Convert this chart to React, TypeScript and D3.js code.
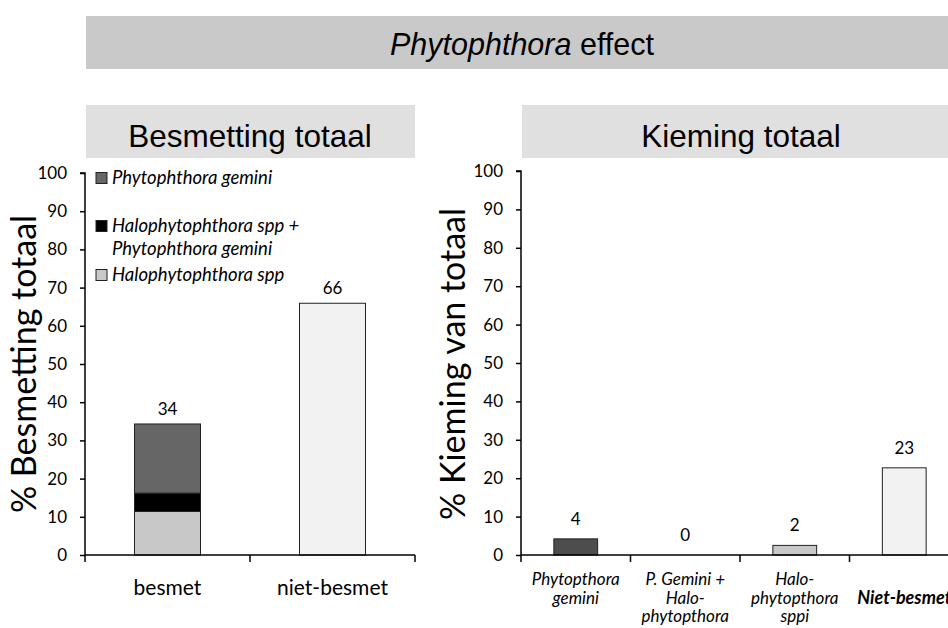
import { useEffect, useRef } from 'react';
import * as d3 from 'd3';

// left chart: infection
const besmetCategories = ['besmet', 'niet-besmet'];
const besmetKeys = ['halo', 'both', 'gemini', 'niet'];
const haloValues = [11.4, 0];
const bothValues = [4.8, 0];
const geminiValues = [18.1, 0];
const nietValues = [0, 65.9];
const besmetTotals = ['34', '66'];
const legendLabels = [
  ['Phytophthora gemini'],
  ['Halophytophthora spp +', 'Phytophthora gemini'],
  ['Halophytophthora spp'],
];

// right chart: germination
const kiemCategories = [
  ['Phytopthora', 'gemini'],
  ['P. Gemini +', 'Halo-', 'phytopthora'],
  ['Halo-', 'phytopthora', 'sppi'],
  ['', 'Niet-besmet'],
];
const kiemValues = [4.2, 0, 2.5, 22.7];
const kiemLabels = ['4', '0', '2', '23'];

const yTicks = [0, 10, 20, 30, 40, 50, 60, 70, 80, 90, 100];
const FONT = 'Lato, "Open Sans", sans-serif';
const ARIAL = '"Liberation Sans", Arial, sans-serif';

const stackColors: Record<string, string> = {
  halo: '#c8c8c8',
  both: '#000000',
  gemini: '#666666',
  niet: '#f2f2f2',
};
const kiemColors = ['#4d4d4d', '#000000', '#c8c8c8', '#f2f2f2'];

const App = () => {
  const svgRef = useRef(null);

  useEffect(() => {
    if (!svgRef.current) return;
    const svg = d3.select(svgRef.current);
    svg.selectAll('*').remove();

    // main banner
    svg.append('rect').attr('x', 86).attr('y', 16).attr('width', 870).attr('height', 53).attr('fill', '#c9c9c9');
    const title = svg
      .append('text')
      .attr('x', 522)
      .attr('y', 55)
      .attr('text-anchor', 'middle')
      .style('font-family', ARIAL)
      .style('font-size', '30.5px');
    title.append('tspan').style('font-style', 'italic').text('Phytophthora');
    title.append('tspan').text(' effect');

    // panel headers
    const headers = [
      { x: 86, w: 329, cx: 250, label: 'Besmetting totaal' },
      { x: 522, w: 440, cx: 741, label: 'Kieming totaal' },
    ];
    headers.forEach((h) => {
      svg.append('rect').attr('x', h.x).attr('y', 105).attr('width', h.w).attr('height', 53).attr('fill', '#e0e0e0');
      svg
        .append('text')
        .attr('x', h.cx)
        .attr('y', 147)
        .attr('text-anchor', 'middle')
        .style('font-family', ARIAL)
        .style('font-size', '31.5px')
        .text(h.label);
    });

    // ---------- left chart ----------
    const y1 = d3.scaleLinear().domain([0, 100]).range([555, 173]);
    const x1 = d3.scaleBand().domain(besmetCategories).range([85, 415]).paddingInner(0.6).paddingOuter(0.3);

    const rows = besmetCategories.map((c, i) => ({
      cat: c,
      halo: haloValues[i],
      both: bothValues[i],
      gemini: geminiValues[i],
      niet: nietValues[i],
    }));
    const stacked = d3.stack<any>().keys(besmetKeys)(rows);
    const g1 = svg.append('g');
    stacked.forEach((layer) => {
      g1.selectAll(null)
        .data(layer.filter((d) => d[1] - d[0] > 0))
        .join('rect')
        .attr('x', (d) => x1(d.data.cat)!)
        .attr('y', (d) => y1(d[1]))
        .attr('width', x1.bandwidth())
        .attr('height', (d) => y1(d[0]) - y1(d[1]))
        .attr('fill', stackColors[layer.key])
        .attr('stroke', '#222')
        .attr('stroke-width', 1);
    });
    g1.selectAll(null)
      .data(rows)
      .join('text')
      .attr('x', (d) => x1(d.cat)! + x1.bandwidth() / 2)
      .attr('y', (d) => y1(d.halo + d.both + d.gemini + d.niet) - 9)
      .attr('text-anchor', 'middle')
      .style('font-family', FONT)
      .style('font-size', '17px')
      .text((_, i) => besmetTotals[i]);

    drawYAxis(svg, y1, 85);
    // x axis
    svg.append('line').attr('x1', 85).attr('x2', 415).attr('y1', 555).attr('y2', 555).attr('stroke', '#000').attr('stroke-width', 1.5);
    [85, 250, 415].forEach((t) =>
      svg.append('line').attr('x1', t).attr('x2', t).attr('y1', 555).attr('y2', 562).attr('stroke', '#000').attr('stroke-width', 1.5)
    );
    svg
      .selectAll(null)
      .data(besmetCategories)
      .join('text')
      .attr('x', (d) => x1(d)! + x1.bandwidth() / 2)
      .attr('y', 595)
      .attr('text-anchor', 'middle')
      .style('font-family', FONT)
      .style('font-size', '21px')
      .text((d) => d);

    // y title
    svg
      .append('text')
      .attr('transform', 'translate(36,364) rotate(-90)')
      .attr('text-anchor', 'middle')
      .style('font-family', FONT)
      .style('font-size', '34px')
      .text('% Besmetting totaal');

    // legend
    const legendY = [178, 226, 275];
    const legendFill = [stackColors.gemini, stackColors.both, stackColors.halo];
    legendLabels.forEach((lines, i) => {
      svg
        .append('rect')
        .attr('x', 96)
        .attr('y', legendY[i] - 5.5)
        .attr('width', 11)
        .attr('height', 11)
        .attr('fill', legendFill[i])
        .attr('stroke', '#222');
      lines.forEach((l, j) => {
        svg
          .append('text')
          .attr('x', 112)
          .attr('y', legendY[i] + 6 + j * 23)
          .style('font-family', FONT)
          .style('font-style', 'italic')
          .style('font-size', '18.5px')
          .text(l);
      });
    });

    // ---------- right chart ----------
    const y2 = d3.scaleLinear().domain([0, 100]).range([555, 171]);
    const kiemIdx = kiemCategories.map((_, i) => String(i));
    const x2 = d3.scaleBand().domain(kiemIdx).range([521, 959]).paddingInner(0.6).paddingOuter(0.3);
    const kiemRows = kiemValues.map((v, i) => ({ key: String(i), v, i }));
    const g2 = svg.append('g');
    g2.selectAll(null)
      .data(kiemRows.filter((d) => d.v > 0))
      .join('rect')
      .attr('x', (d) => x2(d.key)!)
      .attr('y', (d) => y2(d.v))
      .attr('width', x2.bandwidth())
      .attr('height', (d) => y2(0) - y2(d.v))
      .attr('fill', (d) => kiemColors[d.i])
      .attr('stroke', '#222');
    g2.selectAll(null)
      .data(kiemRows)
      .join('text')
      .attr('x', (d) => x2(d.key)! + x2.bandwidth() / 2)
      .attr('y', (d) => y2(d.v) - 14)
      .attr('text-anchor', 'middle')
      .style('font-family', FONT)
      .style('font-size', '17px')
      .text((d) => kiemLabels[d.i]);

    drawYAxis(svg, y2, 521);
    svg.append('line').attr('x1', 521).attr('x2', 948).attr('y1', 555).attr('y2', 555).attr('stroke', '#000').attr('stroke-width', 1.5);
    kiemIdx.forEach((k) => {
      const t = x2(k)! - (x2.step() * x2.paddingInner()) / 2;
      svg.append('line').attr('x1', t).attr('x2', t).attr('y1', 555).attr('y2', 562).attr('stroke', '#000').attr('stroke-width', 1.5);
    });
    kiemCategories.forEach((lines, i) => {
      lines.forEach((l, j) => {
        svg
          .append('text')
          .attr('x', x2(String(i))! + x2.bandwidth() / 2)
          .attr('y', 585 + j * 18.5)
          .attr('text-anchor', 'middle')
          .style('font-family', FONT)
          .style('font-style', 'italic')
          .style('font-weight', i === 3 ? 'bold' : 'normal')
          .style('font-size', i === 3 ? '18px' : '17px')
          .text(l);
      });
    });
    svg
      .append('text')
      .attr('transform', 'translate(465,364) rotate(-90)')
      .attr('text-anchor', 'middle')
      .style('font-family', FONT)
      .style('font-size', '34px')
      .text('% Kieming van totaal');
  }, []);

  return (
    <div style={{ position: 'absolute', left: 0, top: 0 }}>
      <svg ref={svgRef} width={948} height={628} style={{ display: 'block', background: '#fff' }}></svg>
    </div>
  );
};

function drawYAxis(svg: any, y: d3.ScaleLinear<number, number>, x: number) {
  const axis = d3.axisLeft(y).tickValues(yTicks).tickSize(5).tickPadding(13);
  const g = svg.append('g').attr('transform', `translate(${x},0)`).call(axis);
  g.select('.domain').attr('stroke-width', 1.5).attr('d', `M-5,${y(100)}H0V${y(0)}`);
  g.selectAll('.tick line').attr('stroke-width', 1.5);
  g.selectAll('.tick text').style('font-family', FONT).style('font-size', '17px').attr('fill', '#000');
}

export default App;
